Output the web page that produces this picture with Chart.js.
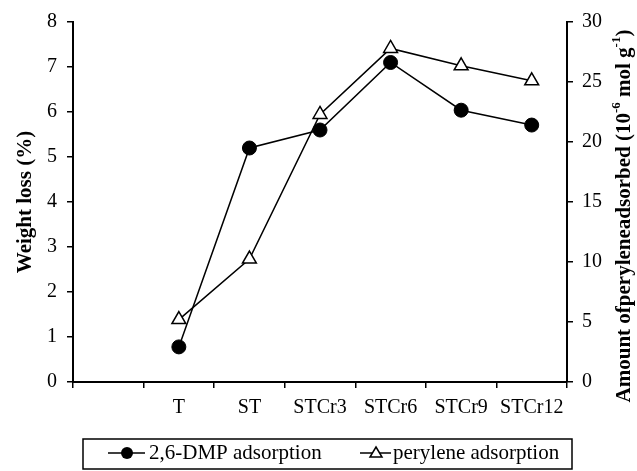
<!DOCTYPE html>
<html>
<head>
<meta charset="utf-8">
<script src="https://cdn.jsdelivr.net/npm/chart.js@4.4.1/dist/chart.umd.min.js"></script>
<style>
  html, body { margin: 0; padding: 0; background: #fff; }
</style>
</head>
<body>
<canvas id="myChart" width="637" height="471"></canvas>
<script>
// Data
const categories = ["", "T", "ST", "STCr3", "STCr6", "STCr9", "STCr12"];
const dmpWeightLoss = [null, 0.78, 5.2, 5.6, 7.1, 6.04, 5.71];
const peryleneAmount = [null, 5.2, 10.25, 22.3, 27.8, 26.35, 25.1];
const leftRange = [0, 8];
const rightRange = [0, 30];
const seriesNames = ["2,6-DMP adsorption", "perylene adsorption"];

const serif = '"Liberation Serif", "Times New Roman", serif';
Chart.defaults.font.family = serif;
Chart.defaults.color = "#000";

// Right axis title reads bottom to top, with superscripts
const rightTitle = {
    id: "rightTitle",
    afterDraw(chart) {
        const ctx = chart.ctx;
        const parts = [
            ["Amount ofperyleneadsorbed (10", false],
            ["-6", true],
            [" mol g", false],
            ["-1", true],
            [")", false]
        ];
        const big = "bold 21px " + serif;
        const small = "bold 13px " + serif;
        ctx.save();
        let total = 0;
        parts.forEach(p => {
            ctx.font = p[1] ? small : big;
            total += ctx.measureText(p[0]).width;
        });
        ctx.translate(chart.width - 12, 216);
        ctx.rotate(-Math.PI / 2);
        ctx.fillStyle = "#000";
        ctx.textBaseline = "middle";
        let x = -total / 2;
        parts.forEach(p => {
            ctx.font = p[1] ? small : big;
            ctx.fillText(p[0], x, p[1] ? -8 : 0);
            x += ctx.measureText(p[0]).width;
        });
        ctx.restore();
    }
};

// Boxed legend below the chart, line + marker symbols
const boxLegend = {
    id: "boxLegend",
    afterDraw(chart) {
        const ctx = chart.ctx;
        const y = 453;
        ctx.save();
        ctx.strokeStyle = "#000";
        ctx.lineWidth = 1.5;
        ctx.strokeRect(83, 439, 489, 30);

        ctx.beginPath();
        ctx.moveTo(108, y); ctx.lineTo(145, y);
        ctx.moveTo(360, y); ctx.lineTo(391, y);
        ctx.stroke();

        ctx.fillStyle = "#000";
        ctx.beginPath();
        ctx.arc(127, y, 6, 0, Math.PI * 2);
        ctx.fill();

        ctx.fillStyle = "#fff";
        ctx.beginPath();
        ctx.moveTo(376, y - 6);
        ctx.lineTo(382, y + 4);
        ctx.lineTo(370, y + 4);
        ctx.closePath();
        ctx.fill();
        ctx.stroke();

        ctx.fillStyle = "#000";
        ctx.font = "21px " + serif;
        ctx.textBaseline = "middle";
        ctx.fillText(seriesNames[0], 149, y);
        ctx.fillText(seriesNames[1], 393, y);
        ctx.restore();
    }
};

const ctx = document.getElementById("myChart").getContext("2d");
const chart = new Chart(ctx, {
    type: "line",
    data: {
        labels: categories,
        datasets: [{
            label: seriesNames[0],
            data: dmpWeightLoss,
            yAxisID: "y",
            borderColor: "#000",
            borderWidth: 1.5,
            pointStyle: "circle",
            pointRadius: 7,
            pointBackgroundColor: "#000",
            pointBorderColor: "#000",
            pointBorderWidth: 1
        }, {
            label: seriesNames[1],
            data: peryleneAmount,
            yAxisID: "y1",
            borderColor: "#000",
            borderWidth: 1.5,
            pointStyle: "triangle",
            pointRadius: 8,
            pointBackgroundColor: "#fff",
            pointBorderColor: "#000",
            pointBorderWidth: 1.5
        }]
    },
    options: {
        responsive: false,
        animation: false,
        layout: { padding: { top: 22, bottom: 49, left: 0, right: 0 } },
        plugins: { legend: { display: false }, tooltip: { enabled: false } },
        scales: {
            x: {
                offset: true,
                grid: { offset: true, drawOnChartArea: false, drawTicks: true, tickLength: 6, color: "#000", lineWidth: 1.5 },
                border: { color: "#000", width: 2 },
                ticks: { font: { size: 20 }, padding: 8, maxRotation: 0, autoSkip: false },
                afterFit(scale) { scale.height = 40; }
            },
            y: {
                position: "left",
                min: leftRange[0],
                max: leftRange[1],
                grid: { drawOnChartArea: false, tickLength: 6, color: "#000", lineWidth: 1.5 },
                border: { color: "#000", width: 2 },
                ticks: { stepSize: 1, font: { size: 20 }, padding: 10 },
                title: { display: true, text: "Weight loss (%)", font: { size: 21, weight: "bold" }, padding: { top: 13, bottom: 0 } },
                afterFit(scale) { scale.width = 73; }
            },
            y1: {
                position: "right",
                min: rightRange[0],
                max: rightRange[1],
                grid: { drawOnChartArea: false, tickLength: 6, color: "#000", lineWidth: 1.5 },
                border: { color: "#000", width: 2 },
                ticks: { stepSize: 5, font: { size: 20 }, padding: 9 },
                afterFit(scale) { scale.width = 70; }
            }
        }
    },
    plugins: [rightTitle, boxLegend]
});
</script>
</body>
</html>
